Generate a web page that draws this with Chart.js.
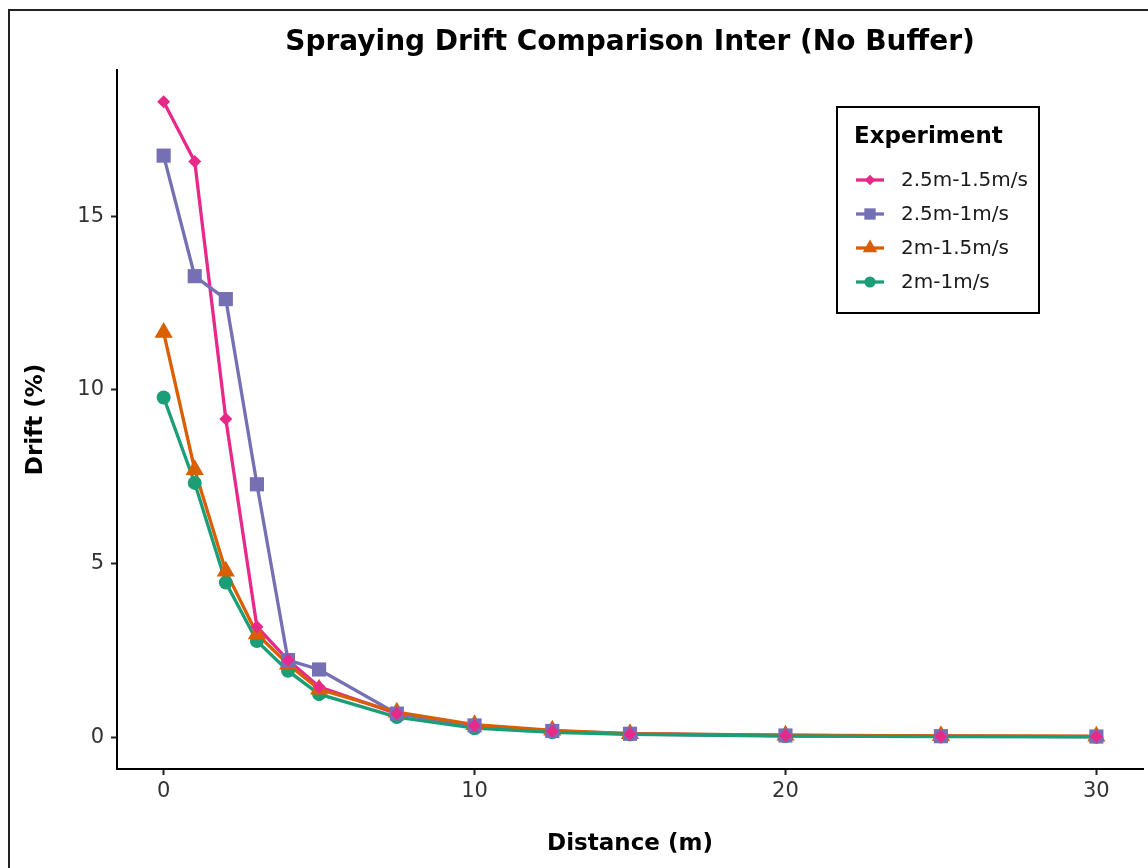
<!DOCTYPE html>
<html>
<head>
<meta charset="utf-8">
<script src="https://cdn.jsdelivr.net/npm/chart.js@4.4.1/dist/chart.umd.min.js"></script>
<style>
  html, body { margin: 0; padding: 0; background: #fff; }
  canvas { display: block; }
</style>
</head>
<body>
<canvas id="driftChart" width="1148" height="868"></canvas>
<script>
// ---- data ----
const distance = [0, 1, 2, 3, 4, 5, 7.5, 10, 12.5, 15, 20, 25, 30];
const drift25m15 = [18.29, 16.57, 9.16, 3.18, 2.22, 1.45, 0.68, 0.33, 0.17, 0.09, 0.05, 0.03, 0.02];
const drift25m10 = [16.74, 13.27, 12.61, 7.28, 2.22, 1.95, 0.68, 0.34, 0.18, 0.10, 0.05, 0.03, 0.02];
const drift2m15  = [11.65, 7.70, 4.78, 2.97, 2.10, 1.38, 0.72, 0.36, 0.20, 0.10, 0.06, 0.04, 0.03];
const drift2m10  = [9.78, 7.32, 4.45, 2.77, 1.91, 1.24, 0.58, 0.26, 0.14, 0.08, 0.03, 0.02, 0.01];

const seriesNames  = ['2.5m-1.5m/s', '2.5m-1m/s', '2m-1.5m/s', '2m-1m/s'];
const seriesValues = [drift25m15, drift25m10, drift2m15, drift2m10];
const seriesColors = ['#E7298A', '#7570B3', '#D95F02', '#1B9E77'];
const seriesShapes = ['rectRot', 'rect', 'triangle', 'circle'];
const shapeRadius  = [6.5, 10, 10.5, 7];

const xTicks = [0, 10, 20, 30];
const yTicks = [0, 5, 10, 15];

const FONT = "'DejaVu Sans', 'Liberation Sans', Arial, sans-serif";
Chart.defaults.font.family = FONT;
Chart.defaults.color = '#333';

const toPoints = vals => vals.map((v, i) => ({ x: distance[i], y: v }));
const yMax = Math.max(...seriesValues.flat());

// lines below all points (green line on top), points on top (pink on top)
const datasets = [];
seriesValues.forEach((vals, i) => {
  datasets.push({
    label: seriesNames[i] + ' line',
    data: toPoints(vals),
    showLine: true,
    borderColor: seriesColors[i],
    borderWidth: 3.3,
    pointRadius: 0,
    tension: 0,
    order: 4 + (3 - i)
  });
  datasets.push({
    label: seriesNames[i],
    data: toPoints(vals),
    showLine: false,
    pointStyle: seriesShapes[i],
    pointRadius: shapeRadius[i],
    pointBackgroundColor: seriesColors[i],
    pointBorderColor: seriesColors[i],
    pointBorderWidth: 0,
    order: i
  });
});

// ---- title, outer frame and boxed legend ----
const decor = {
  id: 'decor',
  beforeDraw(chart) {
    const { ctx, width, height } = chart;
    ctx.save();
    ctx.fillStyle = '#fff';
    ctx.fillRect(0, 0, width, height);
    ctx.strokeStyle = '#222';
    ctx.lineWidth = 2;
    ctx.beginPath();
    ctx.moveTo(width, 10);
    ctx.lineTo(9, 10);
    ctx.lineTo(9, height);
    ctx.stroke();
    ctx.restore();
  },
  afterDraw(chart) {
    const { ctx, chartArea } = chart;
    ctx.save();
    ctx.fillStyle = '#000';
    ctx.textAlign = 'center';
    ctx.textBaseline = 'alphabetic';
    ctx.font = 'bold 28px ' + FONT;
    ctx.fillText('Spraying Drift Comparison Inter (No Buffer)', (chartArea.left + chartArea.right) / 2, 50);

    // legend box
    const bx = 837, by = 107, bw = 202, bh = 206;
    ctx.strokeStyle = '#000';
    ctx.lineWidth = 2;
    ctx.strokeRect(bx, by, bw, bh);
    ctx.textAlign = 'left';
    ctx.font = 'bold 23px ' + FONT;
    ctx.fillText('Experiment', 854, 143);

    ctx.font = '20px ' + FONT;
    ctx.textBaseline = 'middle';
    seriesNames.forEach((name, i) => {
      const y = 180 + i * 34;
      ctx.strokeStyle = seriesColors[i];
      ctx.lineWidth = 3.3;
      ctx.beginPath();
      ctx.moveTo(856, y);
      ctx.lineTo(884, y);
      ctx.stroke();
      ctx.fillStyle = seriesColors[i];
      ctx.strokeStyle = seriesColors[i];
      Chart.helpers.drawPoint(ctx, {
        pointStyle: seriesShapes[i],
        radius: shapeRadius[i] * 0.8,
        rotation: 0,
        borderWidth: 0
      }, 870, y);
      ctx.fillStyle = '#1a1a1a';
      ctx.fillText(name, 901, y + 1);
    });
    ctx.restore();
  }
};

new Chart(document.getElementById('driftChart'), {
  type: 'scatter',
  data: { datasets },
  options: {
    responsive: false,
    animation: false,
    layout: { autoPadding: false, padding: { top: 70, right: 5, left: 0, bottom: 0 } },
    plugins: {
      legend: { display: false },
      tooltip: { enabled: false }
    },
    scales: {
      x: {
        type: 'linear',
        min: -1.5,
        max: 31.5,
        afterBuildTicks: s => { s.ticks = xTicks.map(v => ({ value: v })); },
        afterFit: s => { s.height = 99; },
        grid: { drawOnChartArea: false, drawTicks: true, tickLength: 6, tickColor: '#222', tickWidth: 2 },
        border: { display: true, color: '#000', width: 2 },
        ticks: { color: '#333', font: { size: 21 }, padding: 4, maxRotation: 0 },
        title: {
          display: true, text: 'Distance (m)', color: '#000',
          font: { size: 23, weight: 'bold' }, padding: { top: 0, bottom: 10 }
        }
      },
      y: {
        type: 'linear',
        min: -0.05 * yMax,
        max: 1.05 * yMax,
        afterBuildTicks: s => { s.ticks = yTicks.map(v => ({ value: v })); },
        afterFit: s => { s.width = 117; },
        grid: { drawOnChartArea: false, drawTicks: true, tickLength: 6, tickColor: '#222', tickWidth: 2 },
        border: { display: true, color: '#000', width: 2 },
        ticks: { color: '#333', font: { size: 21 }, padding: 7 },
        title: {
          display: true, text: 'Drift (%)', color: '#000',
          font: { size: 23, weight: 'bold' }, padding: { top: 22, bottom: 0 }
        }
      }
    }
  },
  plugins: [decor]
});
</script>
</body>
</html>
